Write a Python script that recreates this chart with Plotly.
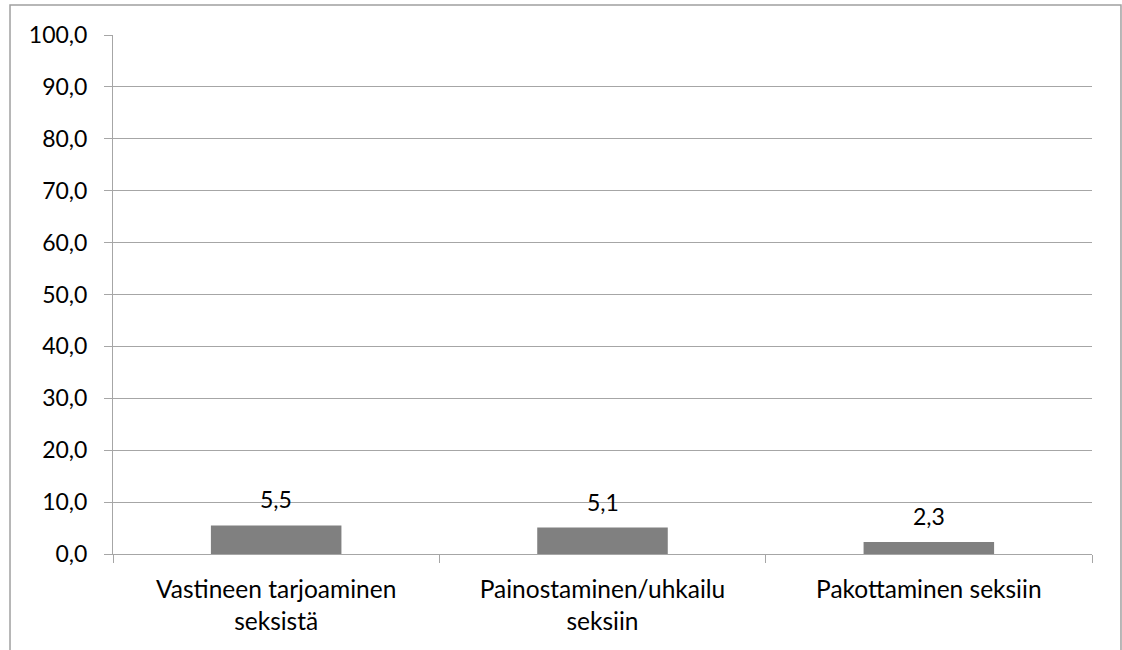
import plotly.graph_objects as go

categories = ["Vastineen tarjoaminen<br>seksistä", "Painostaminen/uhkailu<br>seksiin", "Pakottaminen seksiin"]
values = [5.5, 5.1, 2.3]
y_ticks = [0, 10, 20, 30, 40, 50, 60, 70, 80, 90, 100]

FAMILY = "Lato, 'Open Sans', sans-serif"
FONT_NUM = dict(family=FAMILY, size=23, color="#000000")
FONT_CAT = dict(family=FAMILY, size=24.5, color="#000000")
GRID = "#a6a6a6"

fig = go.Figure()
fig.add_trace(go.Bar(
    x=categories, y=values, marker=dict(color="#808080", line=dict(width=0)),
    width=0.4, hoverinfo="skip",
))

for c, v in zip(categories, values):
    fig.add_annotation(x=c, y=v, text=f"{v:.1f}".replace(".", ","), showarrow=False,
                       yshift=26, font=FONT_NUM, xref="x", yref="y")

fig.update_layout(
    width=1122, height=650,
    margin=dict(l=113, r=30, t=35, b=96),
    paper_bgcolor="white", plot_bgcolor="white",
    separators=", ",
    font=FONT_NUM,
    showlegend=False,
    bargap=0.6,
    xaxis=dict(
        type="category", tickson="boundaries", ticks="outside", ticklen=8,
        tickcolor=GRID, showline=True, linecolor=GRID, linewidth=1,
        showgrid=False, tickfont=FONT_CAT, range=[-0.5, 2.5],
        ticklabelstandoff=14,
    ),
    yaxis=dict(
        range=[0, 100], tickvals=y_ticks, tickformat=".1f",
        ticks="outside", ticklen=8, tickcolor=GRID,
        showline=True, linecolor=GRID, linewidth=1,
        showgrid=True, gridcolor=GRID, gridwidth=1, zeroline=False,
        tickfont=FONT_NUM, ticklabelstandoff=12,
    ),
    shapes=[dict(type="rect", xref="paper", yref="paper",
                 x0=-0.1052, x1=1.0296, y0=-0.25, y1=1.0578,
                 line=dict(color="#a0a0a0", width=1.5), fillcolor="rgba(0,0,0,0)",
                 layer="below")],
)

fig.write_html("out.html", config={"displayModeBar": False},
               post_script="document.body.style.margin='0';")
